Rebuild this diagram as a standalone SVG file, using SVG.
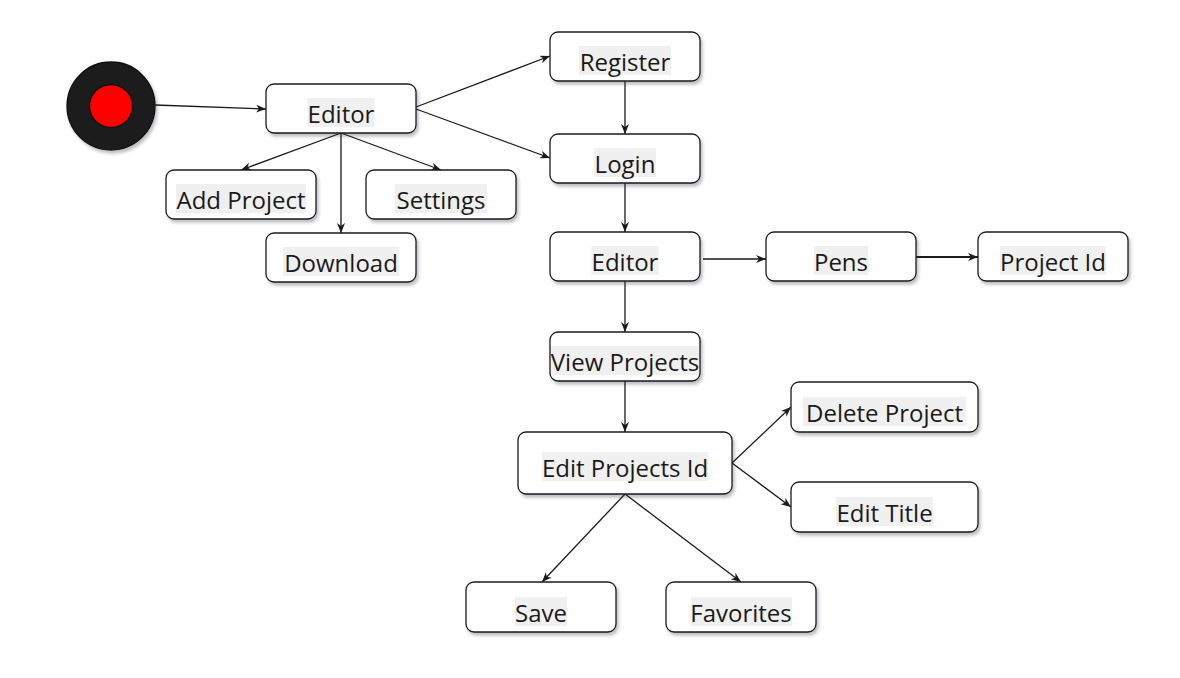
<svg xmlns="http://www.w3.org/2000/svg" width="1180" height="678" viewBox="0 0 1180 678">
<style>
.box{fill:#ffffff;stroke:#1a1a1a;stroke-width:1.3;filter:url(#sh)}
.bg{fill:#f0f0f0}
.lbl{font-family:"Open Sans","Noto Sans",sans-serif;font-size:24px;fill:#1a1a1a;text-anchor:middle}
.edge{fill:none;stroke:#1a1a1a;stroke-width:1.3;marker-end:url(#arr)}
</style>
<defs>
<filter id="sh" x="-20%" y="-20%" width="140%" height="160%">
<feDropShadow dx="2" dy="3" stdDeviation="1.5" flood-color="#2a2a40" flood-opacity="0.3"/>
</filter>
<marker id="arr" markerUnits="userSpaceOnUse" markerWidth="12" markerHeight="10" refX="10" refY="4" orient="auto">
<path d="M0,0 L10,4 L0,8 L3,4 Z" fill="#1a1a1a"/>
</marker>
</defs>
<rect width="1180" height="678" fill="#ffffff"/>

<g id="connectors">
<line class="edge" x1="155" y1="105" x2="266" y2="109"/>
<line class="edge" x1="416" y1="107" x2="550" y2="56"/>
<line class="edge" x1="416" y1="109" x2="550" y2="158"/>
<line class="edge" x1="341" y1="133" x2="241" y2="170"/>
<line class="edge" x1="341" y1="133" x2="341" y2="233"/>
<line class="edge" x1="341" y1="133" x2="441" y2="170"/>
<line class="edge" x1="625" y1="81" x2="625" y2="134"/>
<line class="edge" x1="625" y1="183" x2="625" y2="232"/>
<line class="edge" x1="703" y1="259" x2="766" y2="259"/>
<line class="edge" x1="916" y1="257" x2="978" y2="257" style="stroke-width:2"/>
<line class="edge" x1="625" y1="281" x2="625" y2="332"/>
<line class="edge" x1="625" y1="381" x2="625" y2="432"/>
<line class="edge" x1="732" y1="463" x2="791" y2="407"/>
<line class="edge" x1="732" y1="463" x2="791" y2="507"/>
<line class="edge" x1="625" y1="494" x2="542" y2="582"/>
<line class="edge" x1="625" y1="494" x2="741" y2="582"/>
</g>

<g id="start">
<circle cx="111" cy="106" r="44" fill="#1e1e1e" stroke="#111111" stroke-width="1.3" filter="url(#sh)"/>
<circle cx="111" cy="106" r="21.5" fill="#ff0000" stroke="#111111" stroke-width="1.3"/>
</g>

<g id="editor1">
<rect class="box" x="266" y="84" width="150" height="49" rx="8"/>
<rect class="bg" x="307.5" y="98" width="67" height="29"/>
<text class="lbl" x="341" y="123">Editor</text>
</g>

<g id="add-project">
<rect class="box" x="166" y="170" width="150" height="49" rx="8"/>
<rect class="bg" x="176" y="184" width="130" height="29"/>
<text class="lbl" x="241" y="209">Add Project</text>
</g>

<g id="settings">
<rect class="box" x="366" y="170" width="150" height="49" rx="8"/>
<rect class="bg" x="395" y="184" width="92" height="29"/>
<text class="lbl" x="441" y="209">Settings</text>
</g>

<g id="download">
<rect class="box" x="266" y="233" width="150" height="49" rx="8"/>
<rect class="bg" x="283" y="247" width="116" height="29"/>
<text class="lbl" x="341" y="272">Download</text>
</g>

<g id="register">
<rect class="box" x="550" y="32" width="150" height="49" rx="8"/>
<rect class="bg" x="579" y="46" width="92" height="29"/>
<text class="lbl" x="625" y="71">Register</text>
</g>

<g id="login">
<rect class="box" x="550" y="134" width="150" height="49" rx="8"/>
<rect class="bg" x="594" y="148" width="62" height="29"/>
<text class="lbl" x="625" y="173">Login</text>
</g>

<g id="editor2">
<rect class="box" x="550" y="232" width="150" height="49" rx="8"/>
<rect class="bg" x="591.5" y="246" width="67" height="29"/>
<text class="lbl" x="625" y="271">Editor</text>
</g>

<g id="pens">
<rect class="box" x="766" y="232" width="150" height="49" rx="8"/>
<rect class="bg" x="814" y="246" width="54" height="29"/>
<text class="lbl" x="841" y="271">Pens</text>
</g>

<g id="project-id">
<rect class="box" x="978" y="232" width="150" height="49" rx="8"/>
<rect class="bg" x="1000" y="246" width="106" height="29"/>
<text class="lbl" x="1053" y="271">Project Id</text>
</g>

<g id="view-projects">
<rect class="box" x="550" y="332" width="150" height="49" rx="8"/>
<rect class="bg" x="551" y="346" width="148" height="29"/>
<text class="lbl" x="625" y="371">View Projects</text>
</g>

<g id="edit-projects-id">
<rect class="box" x="518" y="432" width="214" height="62" rx="8"/>
<rect class="bg" x="542" y="452" width="166" height="29"/>
<text class="lbl" x="625" y="477">Edit Projects Id</text>
</g>

<g id="delete-project">
<rect class="box" x="791" y="382" width="187" height="50" rx="8"/>
<rect class="bg" x="803" y="397" width="163" height="29"/>
<text class="lbl" x="884.5" y="422">Delete Project</text>
</g>

<g id="edit-title">
<rect class="box" x="791" y="482" width="187" height="50" rx="8"/>
<rect class="bg" x="836" y="497" width="97" height="29"/>
<text class="lbl" x="884.5" y="522">Edit Title</text>
</g>

<g id="save">
<rect class="box" x="466" y="582" width="150" height="50" rx="8"/>
<rect class="bg" x="515" y="597" width="52" height="29"/>
<text class="lbl" x="541" y="622">Save</text>
</g>

<g id="favorites">
<rect class="box" x="666" y="582" width="150" height="50" rx="8"/>
<rect class="bg" x="691" y="597" width="101" height="29"/>
<text class="lbl" x="741" y="622">Favorites</text>
</g>
</svg>
